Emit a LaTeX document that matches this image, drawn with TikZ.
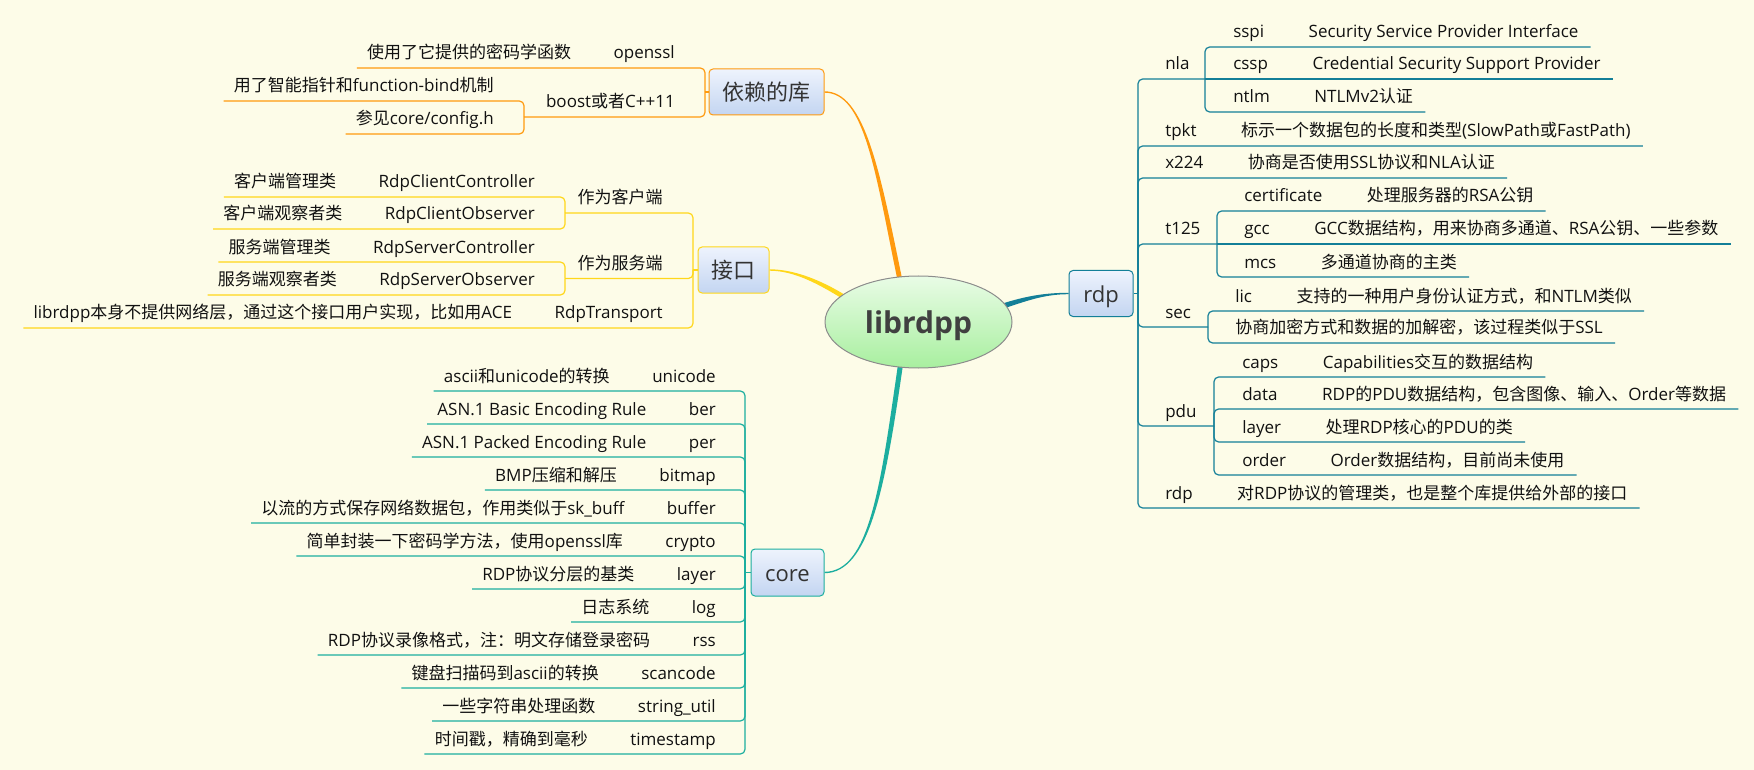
\documentclass[tikz,border=0pt]{standalone}
\usepackage{fontspec}
\setmainfont{Open Sans}
\newfontfamily\cjkfont{Noto Sans CJK SC}
\newfontfamily\latinfont{Open Sans}
\usetikzlibrary{calc,shapes.geometric}
% automatic font switching for CJK characters
\XeTeXinterchartokenstate=1
\newXeTeXintercharclass\cjkclass
\newcount\cjkcnt
\cjkcnt="3000 \loop\ifnum\cjkcnt<"3040 \XeTeXcharclass\cjkcnt=\cjkclass\relax\advance\cjkcnt by 1 \repeat
\cjkcnt="4E00 \loop\ifnum\cjkcnt<"A000 \XeTeXcharclass\cjkcnt=\cjkclass\relax\advance\cjkcnt by 1 \repeat
\cjkcnt="FF00 \loop\ifnum\cjkcnt<"FFF0 \XeTeXcharclass\cjkcnt=\cjkclass\relax\advance\cjkcnt by 1 \repeat
\XeTeXinterchartoks 0 \cjkclass = {\cjkfont}
\XeTeXinterchartoks 2 \cjkclass = {\cjkfont}
\XeTeXinterchartoks 3 \cjkclass = {\cjkfont}
\XeTeXinterchartoks 4095 \cjkclass = {\cjkfont}
\XeTeXinterchartoks \cjkclass 0 = {\latinfont}
\XeTeXinterchartoks \cjkclass 2 = {\latinfont}
\XeTeXinterchartoks \cjkclass 3 = {\latinfont}
\XeTeXinterchartoks \cjkclass 4095 = {\latinfont}

\definecolor{bgC}{HTML}{FDFCE8}
\definecolor{colA}{HTML}{FF9A0F}
\definecolor{colB}{HTML}{FFD71A}
\definecolor{colC}{HTML}{1CAE9F}
\definecolor{colD}{HTML}{137F98}
\definecolor{boxTop}{HTML}{EEF3FD}
\definecolor{boxBot}{HTML}{C3D5F1}
\definecolor{ellTop}{HTML}{E9FCE6}
\definecolor{ellBot}{HTML}{A8EF9F}
\definecolor{ellLine}{HTML}{8C8C8C}
\definecolor{txtC}{HTML}{111111}
\definecolor{topicTxt}{HTML}{333333}
\definecolor{centerTxt}{HTML}{404040}

\pgfdeclarelayer{bg}
\pgfdeclarelayer{conn}
\pgfsetlayers{bg,conn,main}

\tikzset{
  txt/.style={inner sep=0pt, text=txtC, font=\fontsize{12.75}{15}\selectfont},
  topic/.style={rectangle, rounded corners=3pt, inner sep=0pt, line width=0.75pt,
    top color=boxTop, bottom color=boxBot, text=topicTxt,
    font=\fontsize{16.5}{20}\selectfont, text height=12.75pt, text depth=0pt},
  center/.style={ellipse, draw=ellLine, line width=0.75pt, top color=ellTop, bottom color=ellBot,
    inner sep=0pt, text=centerTxt, font=\fontsize{22.5}{26}\selectfont\bfseries,
    text height=16.5pt, text depth=0pt},
}

% left side rows
\newcommand\Lrow[6]{%
  \node[txt,anchor=base east] (#1n) at (#2,#3-9) {#4};
  \node[txt,anchor=base east] (#1d) at ($(#1n.base west)+(-42,0)$) {#5};
  \draw[lnk] (#6) |- ($(#1d.base west)+(-10,9)$);}
\newcommand\Lone[5]{%
  \node[txt,anchor=base east] (#1n) at (#2,#3-9) {#4};
  \draw[lnk] (#5) |- ($(#1n.base west)+(-10,9)$);}
\newcommand\Lsub[6]{%
  \node[txt,anchor=base east] (#1n) at (#2,#3-9) {#4};
  \coordinate (#1b) at (#6,#3);
  \draw[lnk] (#5) |- (#1b);}
% right side rows
\newcommand\Rrow[6]{%
  \node[txt,anchor=base west] (#1n) at (#2,#3-9) {#4};
  \node[txt,anchor=base west] (#1d) at ($(#1n.base east)+(44,0)$) {#5};
  \draw[lnk] (#6) |- ($(#1d.base east)+(12,9)$);}
\newcommand\RrowS[6]{%
  \node[txt,anchor=base west] (#1n) at (#2,#3-9) {#4};
  \node[txt,anchor=base west] (#1d) at ($(#1n.base east)+(44,0)$) {#5};
  \draw[lnk] (#6) -- ($(#1d.base east)+(12,9)$);}
\newcommand\Rone[5]{%
  \node[txt,anchor=base west] (#1n) at (#2,#3-9) {#4};
  \draw[lnk] (#5) |- ($(#1n.base east)+(12,9)$);}
\newcommand\Rsub[6]{%
  \node[txt,anchor=base west] (#1n) at (#2,#3-9) {#4};
  \coordinate (#1b) at (#6,#3);
  \draw[lnk] (#5) |- (#1b);}
% tapered main connector
\newcommand\taper[7]{%
  \fill[#1] ($(#2)+(#6)$) .. controls ($(#3)+(#6)$) and ($(#4)+(#7)$) .. ($(#5)+(#7)$)
    -- ($(#5)-(#7)$) .. controls ($(#4)-(#7)$) and ($(#3)-(#6)$) .. ($(#2)-(#6)$) -- cycle;}

\begin{document}
\begin{tikzpicture}[x=0.75pt,y=-0.75pt]
\useasboundingbox (0,0) rectangle (1754,770);
\begin{pgfonlayer}{bg}
  \fill[bgC] (0,0) rectangle (1754,770);
\end{pgfonlayer}

% ---- central topic and main topics
\node[center,minimum width=140.25pt,minimum height=69pt] (ell) at (918.5,322) {librdpp};
\node[topic,draw=colA,minimum width=86.25pt,minimum height=34.5pt] (boxA) at (766.5,92) {依赖的库};
\node[topic,draw=colB,minimum width=53.25pt,minimum height=34.5pt] (boxB) at (733.5,270) {接口};
\node[topic,draw=colC,minimum width=54.75pt,minimum height=35.25pt] (boxC) at (787.5,572.5) {core};
\node[topic,draw=colD,minimum width=48pt,minimum height=34.5pt] (boxD) at (1101,293.5) {rdp};

% ---- tapered connectors from the centre
\coordinate (a0) at ($(ell.113)+(0.6,3)$);
\coordinate (a1) at ($(ell.113)+(-22,-107)$);
\coordinate (a2) at ($(boxA.east)+(40,0)$);
\coordinate (b0) at ($(ell.161)+(3,1.8)$);
\coordinate (b1) at ($(ell.161)+(-21,-13)$);
\coordinate (b2) at ($(boxB.east)+(25,0)$);
\coordinate (c0) at ($(ell.248)+(0.4,-3)$);
\coordinate (c1) at ($(ell.248)+(-17,118)$);
\coordinate (c2) at ($(boxC.east)+(45,0)$);
\coordinate (d0) at ($(ell.11)+(-3,1)$);
\coordinate (d1) at ($(ell.11)+(19,-6)$);
\coordinate (d2) at ($(boxD.west)+(-25,0)$);
\begin{pgfonlayer}{conn}
  \taper{colA}{a0}{a1}{a2}{boxA.east}{2.35,-0.47}{0,-0.7}
  \taper{colB}{b0}{b1}{b2}{boxB.east}{1.18,-1.97}{0,-0.7}
  \taper{colC}{c0}{c1}{c2}{boxC.east}{-2.47,-0.35}{0,-0.7}
  \taper{colD}{d0}{d1}{d2}{boxD.west}{0.74,2.39}{0,0.7}
\end{pgfonlayer}

% ---- 依赖的库
\begin{scope}[lnk/.style={draw=colA,line width=0.9pt,rounded corners=3.5pt}]
  \coordinate (bA) at (705,92);
  \draw[lnk] (boxA.west) -- (bA);
  \Lrow{a1}{675}{68}{openssl}{使用了它提供的密码学函数}{bA}
  \Lsub{a2}{675}{117}{boost或者C++11}{bA}{524}
  \Lone{a21}{494}{101}{用了智能指针和function-bind机制}{a2b}
  \Lone{a22}{494}{134}{参见core/config.h}{a2b}
\end{scope}

% ---- 接口
\begin{scope}[lnk/.style={draw=colB,line width=0.9pt,rounded corners=3.5pt}]
  \coordinate (bB) at (693,270);
  \draw[lnk] (boxB.west) -- (bB);
  \Lsub{b1}{663}{213}{作为客户端}{bB}{565}
  \Lrow{b11}{535}{197}{RdpClientController}{客户端管理类}{b1b}
  \Lrow{b12}{535}{229}{RdpClientObserver}{客户端观察者类}{b1b}
  \Lsub{b2}{663}{278.5}{作为服务端}{bB}{565}
  \Lrow{b21}{535}{262}{RdpServerController}{服务端管理类}{b2b}
  \Lrow{b22}{535}{295}{RdpServerObserver}{服务端观察者类}{b2b}
  \Lrow{b3}{663}{328}{RdpTransport}{librdpp本身不提供网络层，通过这个接口用户实现，比如用ACE}{bB}
\end{scope}

% ---- core
\begin{scope}[lnk/.style={draw=colC,line width=0.9pt,rounded corners=3.5pt}]
  \coordinate (bC) at (745,572.5);
  \draw[lnk] (boxC.west) -- (bC);
  \Lrow{c01}{716}{391}{unicode}{ascii和unicode的转换}{bC}
  \Lrow{c02}{716}{424}{ber}{ASN.1 Basic Encoding Rule}{bC}
  \Lrow{c03}{716}{457}{per}{ASN.1 Packed Encoding Rule}{bC}
  \Lrow{c04}{716}{490}{bitmap}{BMP压缩和解压}{bC}
  \Lrow{c05}{716}{523}{buffer}{以流的方式保存网络数据包，作用类似于sk\_buff}{bC}
  \Lrow{c06}{716}{556}{crypto}{简单封装一下密码学方法，使用openssl库}{bC}
  \Lrow{c07}{716}{589}{layer}{RDP协议分层的基类}{bC}
  \Lrow{c08}{716}{622}{log}{日志系统}{bC}
  \Lrow{c09}{716}{655}{rss}{RDP协议录像格式，注：明文存储登录密码}{bC}
  \Lrow{c10}{716}{688}{scancode}{键盘扫描码到ascii的转换}{bC}
  \Lrow{c11}{716}{721}{string\_util}{一些字符串处理函数}{bC}
  \Lrow{c12}{716}{754}{timestamp}{时间戳，精确到毫秒}{bC}
\end{scope}

% ---- rdp
\begin{scope}[lnk/.style={draw=colD,line width=0.9pt,rounded corners=3.5pt}]
  \coordinate (bD) at (1138,293.5);
  \draw[lnk] (boxD.east) -- (bD);
  \Rsub{d1}{1165}{79}{nla}{bD}{1205}
  \Rrow{d11}{1233}{47}{sspi}{Security Service Provider Interface}{d1b}
  \RrowS{d12}{1233}{79}{cssp}{Credential Security Support Provider}{d1b}
  \Rrow{d13}{1233}{112}{ntlm}{NTLMv2认证}{d1b}
  \Rrow{d2}{1165}{146}{tpkt}{标示一个数据包的长度和类型(SlowPath或FastPath)}{bD}
  \Rrow{d3}{1165}{178}{x224}{协商是否使用SSL协议和NLA认证}{bD}
  \Rsub{d4}{1165}{244}{t125}{bD}{1217}
  \Rrow{d41}{1244}{211}{certificate}{处理服务器的RSA公钥}{d4b}
  \RrowS{d42}{1244}{244}{gcc}{GCC数据结构，用来协商多通道、RSA公钥、一些参数}{d4b}
  \Rrow{d43}{1244}{277}{mcs}{多通道协商的主类}{d4b}
  \Rsub{d5}{1165}{327}{sec}{bD}{1208}
  \Rrow{d51}{1235}{311}{lic}{支持的一种用户身份认证方式，和NTLM类似}{d5b}
  \Rone{d52}{1235}{343}{协商加密方式和数据的加解密，该过程类似于SSL}{d5b}
  \Rsub{d6}{1165}{426}{pdu}{bD}{1214}
  \Rrow{d61}{1242}{377}{caps}{Capabilities交互的数据结构}{d6b}
  \Rrow{d62}{1242}{409}{data}{RDP的PDU数据结构，包含图像、输入、Order等数据}{d6b}
  \Rrow{d63}{1242}{442}{layer}{处理RDP核心的PDU的类}{d6b}
  \Rrow{d64}{1242}{475}{order}{Order数据结构，目前尚未使用}{d6b}
  \Rrow{d7}{1165}{508}{rdp}{对RDP协议的管理类，也是整个库提供给外部的接口}{bD}
\end{scope}
\end{tikzpicture}
\end{document}
